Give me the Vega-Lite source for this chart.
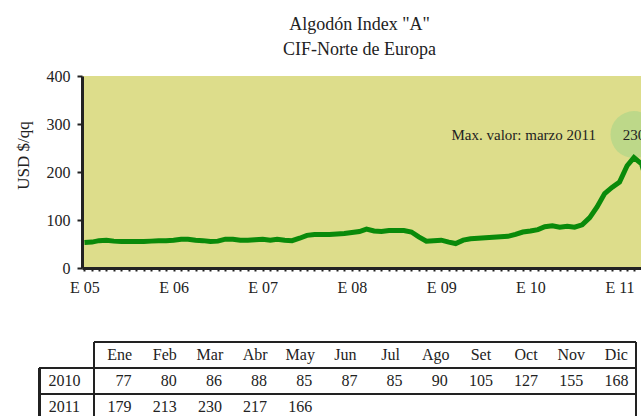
{
  "$schema": "https://vega.github.io/schema/vega-lite/v6.json",
  "padding": {"left": 14, "top": 16, "right": 0, "bottom": 0},
  "background": "white",
  "config": {"font": "Liberation Serif", "view": {"stroke": null}},
  "title": {"text": ["Algodón Index \"A\"", "CIF-Norte de Europa"], "fontSize": 18, "fontWeight": "normal", "lineHeight": 25, "color": "#222222", "anchor": "middle", "dx": 31, "offset": 9},
  "spacing": 46,
  "datasets": {
    "serie": [
      {"fecha": "2005-01-01", "valor": 53}, {"fecha": "2005-02-01", "valor": 54}, {"fecha": "2005-03-01", "valor": 57}, {"fecha": "2005-04-01", "valor": 58},
      {"fecha": "2005-05-01", "valor": 56}, {"fecha": "2005-06-01", "valor": 55}, {"fecha": "2005-07-01", "valor": 55}, {"fecha": "2005-08-01", "valor": 55},
      {"fecha": "2005-09-01", "valor": 55}, {"fecha": "2005-10-01", "valor": 56}, {"fecha": "2005-11-01", "valor": 57}, {"fecha": "2005-12-01", "valor": 57},
      {"fecha": "2006-01-01", "valor": 58}, {"fecha": "2006-02-01", "valor": 60}, {"fecha": "2006-03-01", "valor": 60}, {"fecha": "2006-04-01", "valor": 58},
      {"fecha": "2006-05-01", "valor": 57}, {"fecha": "2006-06-01", "valor": 55}, {"fecha": "2006-07-01", "valor": 56}, {"fecha": "2006-08-01", "valor": 60},
      {"fecha": "2006-09-01", "valor": 60}, {"fecha": "2006-10-01", "valor": 58}, {"fecha": "2006-11-01", "valor": 58}, {"fecha": "2006-12-01", "valor": 59},
      {"fecha": "2007-01-01", "valor": 60}, {"fecha": "2007-02-01", "valor": 58}, {"fecha": "2007-03-01", "valor": 60}, {"fecha": "2007-04-01", "valor": 58},
      {"fecha": "2007-05-01", "valor": 57}, {"fecha": "2007-06-01", "valor": 62}, {"fecha": "2007-07-01", "valor": 68}, {"fecha": "2007-08-01", "valor": 70},
      {"fecha": "2007-09-01", "valor": 70}, {"fecha": "2007-10-01", "valor": 70}, {"fecha": "2007-11-01", "valor": 71}, {"fecha": "2007-12-01", "valor": 72},
      {"fecha": "2008-01-01", "valor": 74}, {"fecha": "2008-02-01", "valor": 76}, {"fecha": "2008-03-01", "valor": 81}, {"fecha": "2008-04-01", "valor": 77},
      {"fecha": "2008-05-01", "valor": 76}, {"fecha": "2008-06-01", "valor": 78}, {"fecha": "2008-07-01", "valor": 78}, {"fecha": "2008-08-01", "valor": 78},
      {"fecha": "2008-09-01", "valor": 75}, {"fecha": "2008-10-01", "valor": 65}, {"fecha": "2008-11-01", "valor": 56}, {"fecha": "2008-12-01", "valor": 57},
      {"fecha": "2009-01-01", "valor": 58}, {"fecha": "2009-02-01", "valor": 54}, {"fecha": "2009-03-01", "valor": 51}, {"fecha": "2009-04-01", "valor": 58},
      {"fecha": "2009-05-01", "valor": 61}, {"fecha": "2009-06-01", "valor": 62}, {"fecha": "2009-07-01", "valor": 63}, {"fecha": "2009-08-01", "valor": 64},
      {"fecha": "2009-09-01", "valor": 65}, {"fecha": "2009-10-01", "valor": 66}, {"fecha": "2009-11-01", "valor": 70}, {"fecha": "2009-12-01", "valor": 75},
      {"fecha": "2010-01-01", "valor": 77}, {"fecha": "2010-02-01", "valor": 80}, {"fecha": "2010-03-01", "valor": 86}, {"fecha": "2010-04-01", "valor": 88},
      {"fecha": "2010-05-01", "valor": 85}, {"fecha": "2010-06-01", "valor": 87}, {"fecha": "2010-07-01", "valor": 85}, {"fecha": "2010-08-01", "valor": 90},
      {"fecha": "2010-09-01", "valor": 105}, {"fecha": "2010-10-01", "valor": 127}, {"fecha": "2010-11-01", "valor": 155}, {"fecha": "2010-12-01", "valor": 168},
      {"fecha": "2011-01-01", "valor": 179}, {"fecha": "2011-02-01", "valor": 213}, {"fecha": "2011-03-01", "valor": 230}, {"fecha": "2011-04-01", "valor": 217},
      {"fecha": "2011-05-01", "valor": 166}
    ],
    "anotacion": [
      {"fecha": "2011-03-01", "valor": 278, "etiqueta": "230", "nota": "Max. valor: marzo 2011"}
    ],
    "tabla": [
      {"anio": 2010, "mes": "Ene", "n": 1, "valor": 77}, {"anio": 2010, "mes": "Feb", "n": 2, "valor": 80},
      {"anio": 2010, "mes": "Mar", "n": 3, "valor": 86}, {"anio": 2010, "mes": "Abr", "n": 4, "valor": 88},
      {"anio": 2010, "mes": "May", "n": 5, "valor": 85}, {"anio": 2010, "mes": "Jun", "n": 6, "valor": 87},
      {"anio": 2010, "mes": "Jul", "n": 7, "valor": 85}, {"anio": 2010, "mes": "Ago", "n": 8, "valor": 90},
      {"anio": 2010, "mes": "Set", "n": 9, "valor": 105}, {"anio": 2010, "mes": "Oct", "n": 10, "valor": 127},
      {"anio": 2010, "mes": "Nov", "n": 11, "valor": 155}, {"anio": 2010, "mes": "Dic", "n": 12, "valor": 168},
      {"anio": 2011, "mes": "Ene", "n": 1, "valor": 179}, {"anio": 2011, "mes": "Feb", "n": 2, "valor": 213},
      {"anio": 2011, "mes": "Mar", "n": 3, "valor": 230}, {"anio": 2011, "mes": "Abr", "n": 4, "valor": 217},
      {"anio": 2011, "mes": "May", "n": 5, "valor": 166}
    ]
  },
  "vconcat": [
    {
      "width": 560,
      "height": 192,
      "view": {"fill": "#dddd8b", "stroke": null},
      "encoding": {
        "x": {
          "field": "fecha", "type": "temporal", "title": null,
          "scale": {"type": "utc", "nice": false, "domain": [{"year": 2004, "month": 12, "date": 22, "utc": true}, {"year": 2011, "month": 4, "date": 3, "utc": true}]},
          "axis": {
            "tickCount": {"interval": "month", "step": 1},
            "labelExpr": "utcmonth(datum.value) == 0 ? 'E ' + utcFormat(datum.value, '%y') : ''",
            "labelOverlap": false, "labelFlush": false, "labelBound": false, "labelAngle": 0,
            "labelFontSize": 16, "labelColor": "#222222", "labelPadding": 8, "labelDx": 4,
            "tickSize": 3, "tickWidth": 2, "tickColor": "#222222",
            "domainWidth": 3, "domainColor": "#222222", "grid": false
          }
        },
        "y": {
          "field": "valor", "type": "quantitative", "title": "USD $/qq",
          "scale": {"domain": [0, 400], "nice": false},
          "axis": {
            "values": [0, 100, 200, 300, 400],
            "titleFontSize": 17, "titleFontWeight": "normal", "titleColor": "#222222", "titlePadding": 14, "titleY": 79,
            "labelFontSize": 16, "labelColor": "#222222", "labelPadding": 7,
            "tickSize": 5, "tickWidth": 2, "tickColor": "#222222",
            "domainWidth": 3, "domainColor": "#222222", "grid": false
          }
        }
      },
      "layer": [
        {"data": {"name": "anotacion"}, "mark": {"type": "point", "shape": "circle", "filled": true, "size": 2200, "color": "#bdd889", "opacity": 1, "clip": true}},
        {"data": {"name": "serie"}, "mark": {"type": "line", "color": "#0a8a0a", "strokeWidth": 5, "clip": true}},
        {"data": {"name": "anotacion"}, "mark": {"type": "text", "fontSize": 15, "align": "center", "baseline": "middle", "color": "#222222", "clip": true}, "encoding": {"text": {"field": "etiqueta"}}},
        {"data": {"name": "anotacion"}, "mark": {"type": "text", "fontSize": 15, "align": "right", "baseline": "middle", "dx": -38, "color": "#222222"}, "encoding": {"text": {"field": "nota"}}}
      ]
    },
    {
      "width": 554,
      "height": 74,
      "data": {"name": "tabla"},
      "layer": [
        {"mark": {"type": "rule", "color": "#222222", "strokeWidth": 2},
         "encoding": {"x": {"datum": 0.5, "type": "quantitative", "scale": {"domain": [0.2343, 12.5], "nice": false, "zero": false}, "axis": null}, "x2": {"datum": 12.5},
                      "y": {"datum": 2008.5, "type": "quantitative", "scale": {"domain": [2008.5, 2011.346], "reverse": true, "nice": false, "zero": false}, "axis": null}}},
        {"mark": {"type": "rule", "color": "#222222", "strokeWidth": 2},
         "encoding": {"x": {"datum": -0.7, "type": "quantitative"}, "x2": {"datum": 12.5}, "y": {"datum": 2009.5, "type": "quantitative"}}},
        {"mark": {"type": "rule", "color": "#222222", "strokeWidth": 2},
         "encoding": {"x": {"datum": -0.7, "type": "quantitative"}, "x2": {"datum": 12.5}, "y": {"datum": 2010.5, "type": "quantitative"}}},
        {"mark": {"type": "rule", "color": "#222222", "strokeWidth": 2},
         "encoding": {"x": {"datum": -0.7, "type": "quantitative"}, "y": {"datum": 2009.5, "type": "quantitative"}, "y2": {"datum": 2011.346}}},
        {"mark": {"type": "rule", "color": "#222222", "strokeWidth": 2},
         "encoding": {"x": {"datum": 0.5, "type": "quantitative"}, "y": {"datum": 2008.5, "type": "quantitative"}, "y2": {"datum": 2011.346}}},
        {"mark": {"type": "rule", "color": "#222222", "strokeWidth": 2},
         "encoding": {"x": {"datum": 12.5, "type": "quantitative"}, "y": {"datum": 2008.5, "type": "quantitative"}, "y2": {"datum": 2011.346}}},
        {"transform": [{"filter": "datum.anio == 2010"}],
         "mark": {"type": "text", "fontSize": 16, "align": "center", "baseline": "middle", "dx": 3, "color": "#222222"},
         "encoding": {"x": {"field": "n", "type": "quantitative"}, "y": {"datum": 2009, "type": "quantitative"}, "text": {"field": "mes", "type": "nominal"}}},
        {"mark": {"type": "text", "fontSize": 16, "align": "right", "baseline": "middle", "dx": 15, "color": "#222222"},
         "encoding": {"x": {"field": "n", "type": "quantitative"}, "y": {"field": "anio", "type": "quantitative"}, "text": {"field": "valor", "type": "nominal"}}},
        {"transform": [{"filter": "datum.n == 1"}],
         "mark": {"type": "text", "fontSize": 16, "align": "center", "baseline": "middle", "dx": -7, "color": "#222222"},
         "encoding": {"x": {"datum": 0, "type": "quantitative"}, "y": {"field": "anio", "type": "quantitative"}, "text": {"field": "anio", "type": "nominal"}}}
      ]
    }
  ]
}
